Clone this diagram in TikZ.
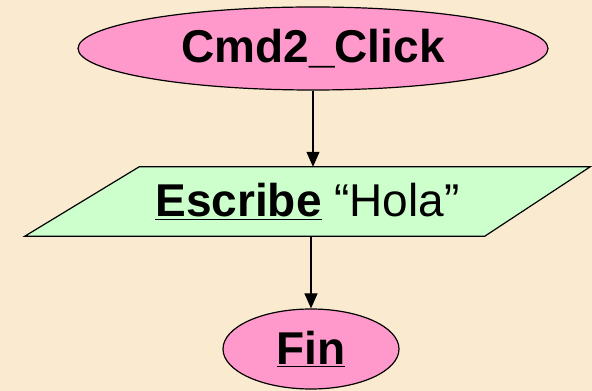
\documentclass[tikz,border=0pt]{standalone}
\usepackage{fontspec}
\setmainfont{Liberation Sans}
\usetikzlibrary{shapes.geometric,arrows.meta}
\definecolor{fondo}{HTML}{FAEBD0}
\definecolor{rosa}{HTML}{FF99CC}
\definecolor{verde}{HTML}{CCFFCC}
\tikzset{
  terminal/.style={draw, ellipse, fill=rosa, line width=1.2pt, inner sep=0pt},
  entrada/.style={rectangle, inner sep=0pt},
  flecha/.style={line width=1.2pt, -{Triangle[length=15pt,width=13pt]}}
}
\begin{document}
\begin{tikzpicture}[x=1pt, y=1pt, font=\fontsize{46}{50}\selectfont]

% Fondo
\fill[fondo] (0,0) rectangle (592,391);
\useasboundingbox (0,0) rectangle (592,391);

% Bloques
\node[terminal, minimum width=470pt, minimum height=83pt] (inicio) at (313,342.5) {\bfseries Cmd2\_Click};
\node[entrada, minimum width=565pt, minimum height=69pt] (escribe) at (307.5,189.5) {};
\draw[fill=verde, line width=1.2pt] (escribe.south west) -- ++(460,0) -- (escribe.north east) -- ++(-451,0) -- cycle;
\node (texto) at (escribe.center) {\underline{\bfseries Escribe} “Hola”};
\node[terminal, minimum width=176pt, minimum height=80pt] (fin) at (311,42) {\underline{\bfseries Fin}};

% Conexiones
\draw[flecha] (inicio.south) -- (inicio.south |- escribe.north);
\draw[flecha] (fin.north |- escribe.south) -- (fin.north);

\end{tikzpicture}
\end{document}
